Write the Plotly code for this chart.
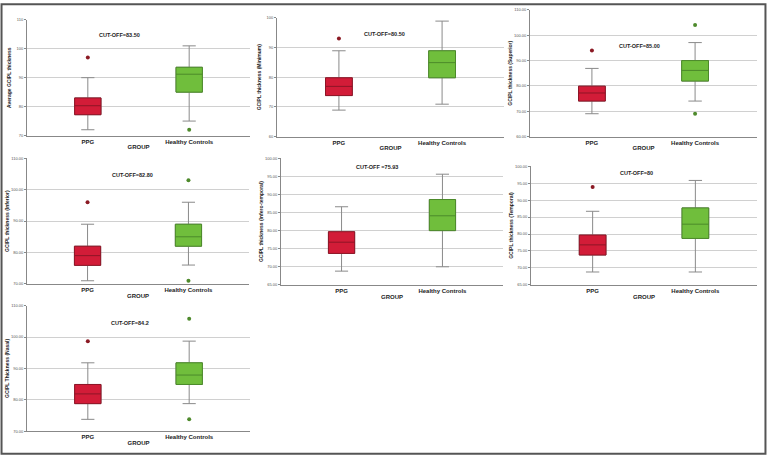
import plotly.graph_objects as go

# ---- data ----
groups = ["PPG", "Healthy Controls"]
panel_titles = [
    "Average GCIPL thickness",
    "GCIPL thickness (Minimum)",
    "GCIPL thickness (Superior)",
    "GCIPL thickness (Inferior)",
    "GCIPL thickness (Infero-temporal)",
    "GCIPL thickness (Temporal)",
    "GCIPL Thickness (Nasal)",
]
cutoff_labels = [
    "CUT-OFF=83.50",
    "CUT-OFF=80.50",
    "CUT-OFF=85.00",
    "CUT-OFF=82.80",
    "CUT-OFF =75.93",
    "CUT-OFF=80",
    "CUT-OFF=84.2",
]
# [lowerfence, q1, median, q3, upperfence] for PPG and Healthy Controls
ppg_stats = [
    [72.0, 77.2, 80.3, 83.0, 90.0],
    [68.9, 73.8, 76.9, 79.8, 88.9],
    [69.0, 74.0, 77.2, 79.9, 86.9],
    [71.0, 75.9, 79.0, 82.0, 89.0],
    [68.8, 73.7, 76.8, 79.7, 86.6],
    [68.8, 73.8, 76.8, 79.7, 86.7],
    [73.8, 78.8, 81.9, 84.9, 91.8],
]
hc_stats = [
    [75.0, 85.0, 91.2, 93.6, 101.0],
    [70.9, 79.8, 84.9, 88.9, 98.9],
    [74.0, 81.9, 86.1, 90.0, 97.1],
    [76.0, 82.0, 85.0, 89.0, 96.0],
    [70.0, 80.0, 84.1, 88.6, 95.6],
    [68.8, 78.7, 82.9, 87.7, 95.8],
    [78.8, 84.9, 87.9, 91.8, 98.7],
]
ppg_outliers = [[97.0], [93.0], [94.0], [96.0], [], [93.9], [98.7]]
hc_outliers = [[72.0], [], [104.0, 69.0], [103.0, 71.0], [], [], [105.8, 73.8]]
y_ranges = [[70, 110], [60, 100], [60, 110], [70, 110], [65, 100], [65, 100], [70, 110]]
y_dticks = [10, 10, 10, 10, 5, 5, 10]
y_formats = ["d", "d", ".2f", ".2f", ".2f", ".2f", ".2f"]

# ---- layout geometry (pixels in a 767x457 canvas) ----
W, H = 767, 457
# (left, right, top, bottom) of each plotting area
boxes_px = [
    (27, 250, 17, 134),
    (277, 504, 15, 135),
    (530, 757, 7, 135),
    (27, 249, 157, 284),
    (281, 503, 157, 285),
    (531, 757, 165, 285),
    (27, 250, 306, 433),
]
title_standoff = [4, 4, 1, 1, 1, 1, 1]
cut_pos_px = [(119, 32), (384, 31), (639, 43), (132, 174), (377, 166), (636, 172), (130, 324)]

fill_colors = ["#D21C38", "#70BE3C"]
edge_colors = ["#8E1526", "#4C8A2A"]
out_colors = ["#8B1A24", "#4E8A2C"]
whisker_color = "#8a8a8a"
font_family = "Arial, Liberation Sans, sans-serif"

fig = go.Figure()
layout = dict(
    width=W, height=H,
    margin=dict(l=0, r=0, t=0, b=0),
    paper_bgcolor="white", plot_bgcolor="white",
    showlegend=False,
    boxmode="overlay",
    font=dict(family=font_family, color="#333"),
)
annotations = []

for i in range(7):
    n = i + 1
    xa = "x" if n == 1 else f"x{n}"
    ya = "y" if n == 1 else f"y{n}"
    l, r, t, b = boxes_px[i]
    for g, stats, outs in ((0, ppg_stats[i], ppg_outliers[i]), (1, hc_stats[i], hc_outliers[i])):
        lf, q1, med, q3, uf = stats
        # whiskers (gray)
        fig.add_trace(go.Box(
            x=[groups[g]], q1=[q1], median=[med], q3=[q3],
            lowerfence=[lf], upperfence=[uf],
            width=0.26, whiskerwidth=0.5,
            fillcolor=fill_colors[g], line=dict(color=whisker_color, width=1),
            xaxis=xa, yaxis=ya, hoverinfo="skip", boxpoints=False,
        ))
        # box body with coloured outline / median
        fig.add_trace(go.Box(
            x=[groups[g]], q1=[q1], median=[med], q3=[q3],
            lowerfence=[q1], upperfence=[q3],
            width=0.26, whiskerwidth=0,
            fillcolor=fill_colors[g], line=dict(color=edge_colors[g], width=1),
            xaxis=xa, yaxis=ya, hoverinfo="skip", boxpoints=False,
        ))
        if outs:
            fig.add_trace(go.Scatter(
                x=[groups[g]] * len(outs), y=outs, mode="markers",
                marker=dict(color=out_colors[g], size=4),
                xaxis=xa, yaxis=ya, hoverinfo="skip",
            ))
    xdom = [l / W, r / W]
    ydom = [1 - b / H, 1 - t / H]
    key_x = "xaxis" if n == 1 else f"xaxis{n}"
    key_y = "yaxis" if n == 1 else f"yaxis{n}"
    layout[key_x] = dict(
        domain=xdom, anchor=ya, type="category",
        categoryorder="array", categoryarray=groups,
        range=[-0.6, 1.6], showgrid=False, zeroline=False,
        showline=True, linecolor="#888", linewidth=1,
        ticks="", tickfont=dict(size=6, color="#222", family=font_family, weight="bold"),
        title=dict(text="GROUP", standoff=1,
                   font=dict(size=6, color="#222", family=font_family, weight="bold")),
        fixedrange=True,
    )
    layout[key_y] = dict(
        domain=ydom, anchor=xa, range=y_ranges[i], dtick=y_dticks[i],
        tickformat=y_formats[i], tick0=0,
        showgrid=True, gridcolor="#d0d0d0", gridwidth=1, zeroline=False,
        showline=True, linecolor="#888", linewidth=1,
        ticks="outside", ticklen=2, tickcolor="#888",
        tickfont=dict(size=4, color="#555", family=font_family),
        title=dict(text=panel_titles[i], standoff=title_standoff[i],
                   font=dict(size=5, color="#222", family=font_family, weight="bold")),
        fixedrange=True,
    )
    cx, cy = cut_pos_px[i]
    annotations.append(dict(
        x=cx / W, y=1 - cy / H, xref="paper", yref="paper",
        xanchor="center", yanchor="middle",
        text=cutoff_labels[i], showarrow=False,
        font=dict(size=5.5, color="#222", family=font_family, weight="bold"),
    ))

layout["annotations"] = annotations
layout["shapes"] = [dict(
    type="rect", xref="paper", yref="paper", x0=0.002, x1=0.998, y0=0.003, y1=0.997,
    line=dict(color="#555", width=2), fillcolor="rgba(0,0,0,0)", layer="above",
)]
fig.update_layout(**layout)
fig.write_html(
    "out.html",
    config={"displayModeBar": False},
    post_script="document.body.style.margin='0';document.body.style.overflow='hidden';",
)
